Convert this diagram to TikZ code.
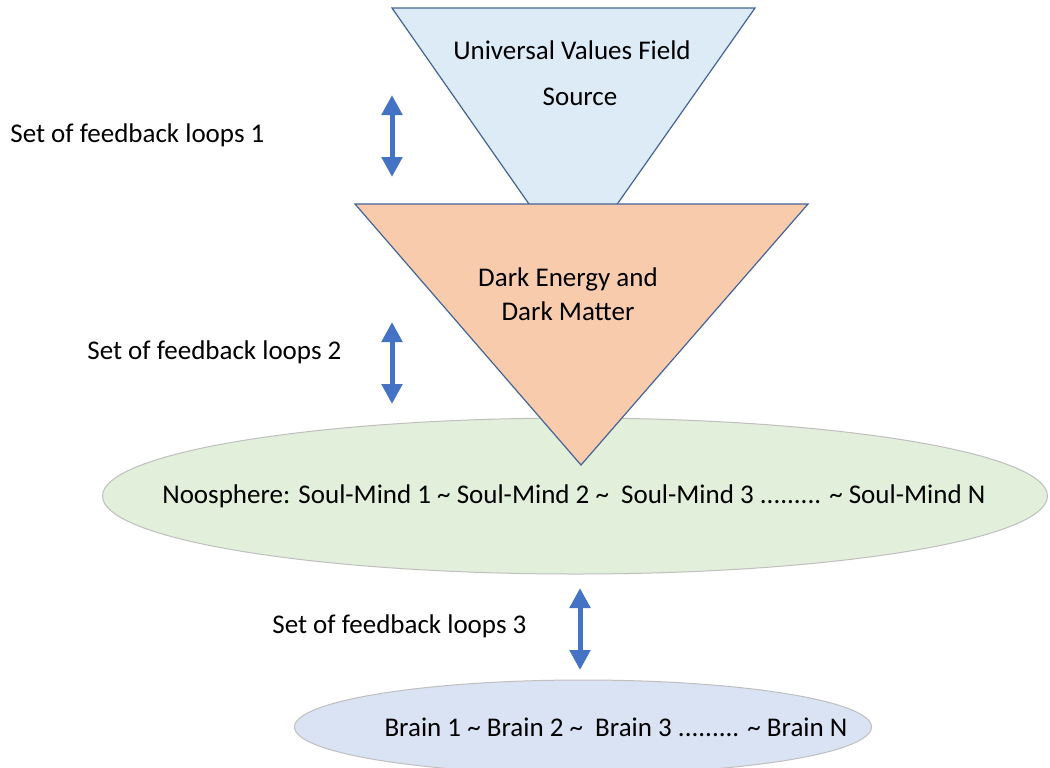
\documentclass[tikz,border=0pt]{standalone}
\usepackage{fontspec}
\setmainfont{Carlito}
\usetikzlibrary{shapes.geometric}
\usetikzlibrary{arrows.meta}
\definecolor{uvblue}{RGB}{221,235,247}
\definecolor{dmorange}{RGB}{248,203,173}
\definecolor{noosgreen}{RGB}{226,239,218}
\definecolor{brainblue}{RGB}{218,227,243}
\definecolor{edgeblue}{RGB}{68,100,150}
\definecolor{loopblue}{RGB}{68,114,196}

\begin{document}
\begin{tikzpicture}[x=0.5pt,y=-0.5pt,
  txt/.style={font=\fontsize{13.5}{16}\selectfont,inner sep=0pt},
  layer/.style={draw=edgeblue,line width=0.6pt},
  field/.style={ellipse,draw=black!25,line width=0.5pt,inner sep=0pt},
  loop/.style={loopblue,line width=2.5pt,{Triangle[width=10pt,length=10pt]}-{Triangle[width=10pt,length=10pt]}}]
\useasboundingbox (0,0) rectangle (1050,767);
\fill[white] (0,0) rectangle (1050,767);
\draw[layer,fill=uvblue] (392,8) -- (755,8) -- (573,267) -- cycle;
\node[txt] at (572,50) (uvf) {Universal Values Field};
\node[txt] at (580,97) (src) {Source};
\node[field,fill=noosgreen,minimum width=472.5pt,minimum height=78pt] at (575,496) (noosell) {};
\node[txt] at (574,496) (noos)
  {Noosphere: Soul-Mind 1 \textasciitilde{} Soul-Mind 2 \textasciitilde\ \ Soul-Mind 3 ......... \textasciitilde{} Soul-Mind N};
\draw[layer,fill=dmorange] (355,204) -- (808,204) -- (581,465) -- cycle;
\node[txt,align=center,font=\fontsize{13.5}{17}\selectfont] at (568,294) (dedm) {Dark Energy and\\Dark Matter};
\node[field,fill=brainblue,minimum width=288.5pt,minimum height=47pt] at (583,727) (brainsell) {};
\node[txt] at (616,727) (brains) {Brain 1 \textasciitilde{} Brain 2 \textasciitilde\ \ Brain 3 ......... \textasciitilde{} Brain N};

\node[txt,anchor=west] at (10,135) (fb1) {Set of feedback loops 1};
\node[txt,anchor=west] at (87,352) (fb2) {Set of feedback loops 2};
\node[txt,anchor=west] at (272,626) (fb3) {Set of feedback loops 3};
\coordinate (fb1t) at (392,95);
\coordinate (fb1b) at (392,177);
\coordinate (fb2t) at (392,322);
\coordinate (fb2b) at (392,404);
\coordinate (fb3t) at (580,588);
\coordinate (fb3b) at (580,670);
\draw[loop] (fb1t) -- (fb1b);
\draw[loop] (fb2t) -- (fb2b);
\draw[loop] (fb3t) -- (fb3b);
\end{tikzpicture}
\end{document}
